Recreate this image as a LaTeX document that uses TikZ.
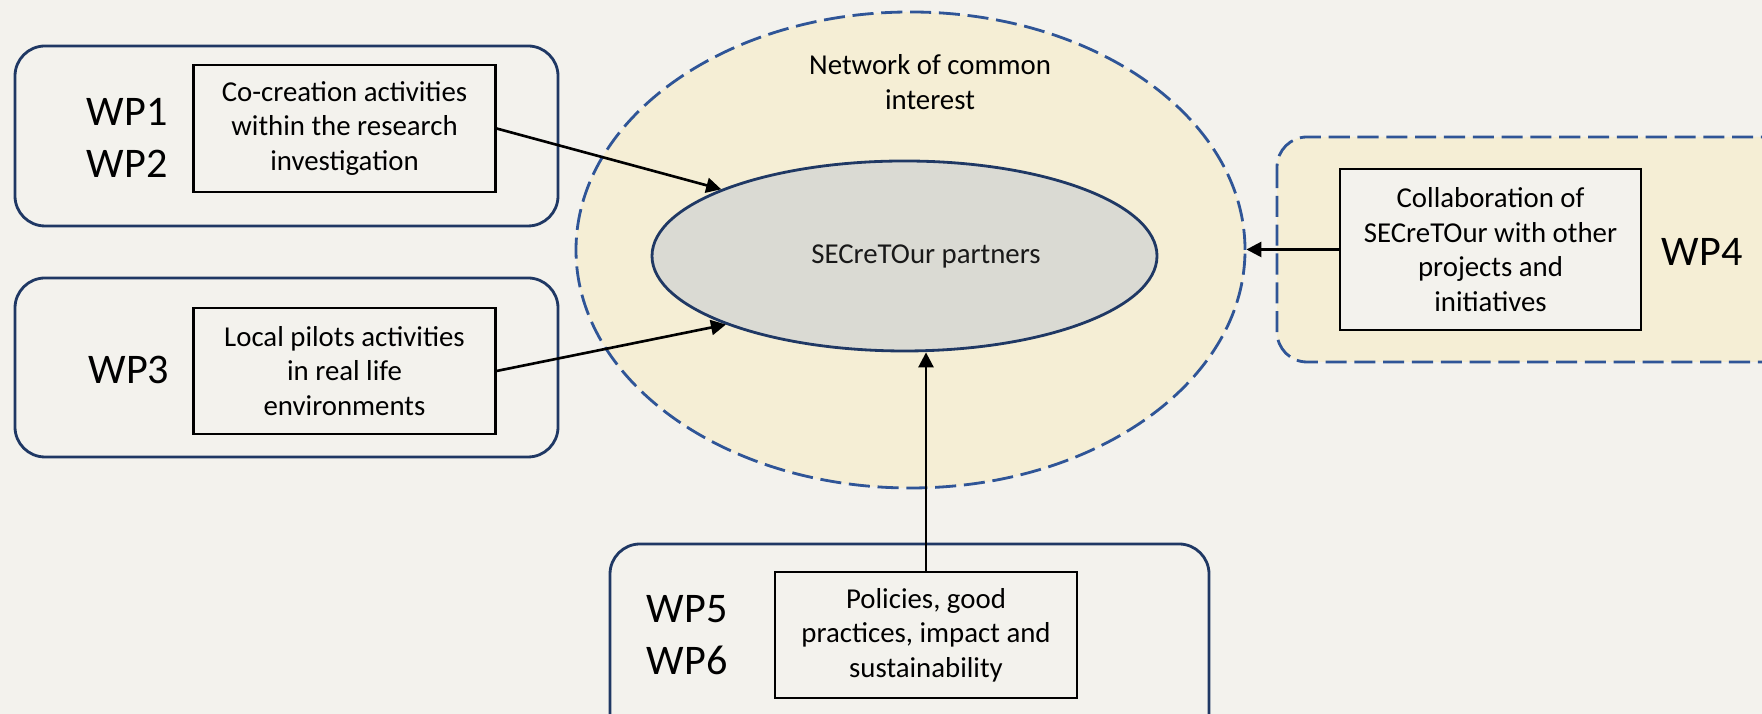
\documentclass[tikz,border=0pt]{standalone}
\usepackage{fontspec}
\setmainfont{Carlito}
\usetikzlibrary{shapes.geometric,arrows.meta}

\definecolor{paper}{HTML}{F3F2ED}
\definecolor{cream}{HTML}{F5EED5}
\definecolor{partnergray}{HTML}{DADAD3}
\definecolor{navy}{HTML}{1F3864}
\definecolor{dashblue}{HTML}{2F5597}

\tikzset{
  wpframe/.style={draw=navy, line width=0.8pt, rounded corners=0.3cm},
  wpdashed/.style={draw=dashblue, line width=0.8pt, dash pattern=on 6pt off 2.2pt},
  taskbox/.style={draw=black, line width=0.6pt, fill=paper, align=center, inner sep=0pt,
    minimum width=3.02cm, font=\fontsize{8.2}{9.8}\selectfont},
  wplabel/.style={align=center, font=\fontsize{12}{14.8}\selectfont},
  feed/.style={-{Triangle[length=1.5mm,width=1.5mm]}, line width=0.75pt},
}

\begin{document}
\begin{tikzpicture}
\path[use as bounding box, fill=paper] (0,0) rectangle (17.62,7.14);
\clip (0,0) rectangle (17.62,7.14);

% work package frames
\draw[wpframe] (0.15,6.68) rectangle (5.58,4.88);
\draw[wpframe] (0.15,4.36) rectangle (5.58,2.57);
\draw[wpdashed, rounded corners=0.3cm, fill=cream] (12.77,5.77) rectangle (18.0,3.52);
\draw[wpframe] (6.10,1.70) rectangle (12.09,-0.4);

% network and partners
\node[ellipse, wpdashed, fill=cream, inner sep=0pt,
  minimum width=6.69cm, minimum height=4.76cm] (network) at (9.105,4.64) {};
\node[align=center, font=\fontsize{8.2}{9.8}\selectfont] (networklabel) at (9.30,6.32)
  {Network of common\\interest};
\node[ellipse, draw=navy, line width=0.8pt, fill=partnergray, inner sep=0pt,
  minimum width=5.05cm, minimum height=1.90cm,
  label={[xshift=0.215cm, font=\fontsize{8.2}{9.8}\selectfont, text=black!90]center:SECreTOur partners}]
  (partners) at (9.045,4.58) {};

% activities
\node[taskbox, minimum height=1.27cm] (cocreation) at (3.445,5.855)
  {Co-creation activities\\within the research\\investigation};
\node[taskbox, minimum height=1.26cm] (pilots) at (3.445,3.43)
  {Local pilots activities\\in real life\\environments};
\node[taskbox, minimum height=1.61cm, minimum width=3.01cm] (collab) at (14.905,4.645)
  {Collaboration of\\SECreTOur with other\\projects and\\initiatives};
\node[taskbox, minimum height=1.26cm] (policies) at (9.26,0.79)
  {Policies, good\\practices, impact and\\sustainability};

\node[wplabel] (wp12) at (1.27,5.765) {WP1\\WP2};
\node[wplabel] (wp3) at (1.29,3.44) {WP3};
\node[wplabel] (wp4) at (17.02,4.62) {WP4};
\node[wplabel] (wp56) at (6.87,0.79) {WP5\\WP6};

\draw[feed] (cocreation.east) -- (partners.160);
\draw[feed] (pilots.east) -- (partners.201);
\draw[feed] (collab.west) -- (collab.west -| network.east);
\draw[feed] (policies.north) -- (policies.north |- partners.south);
\end{tikzpicture}
\end{document}
